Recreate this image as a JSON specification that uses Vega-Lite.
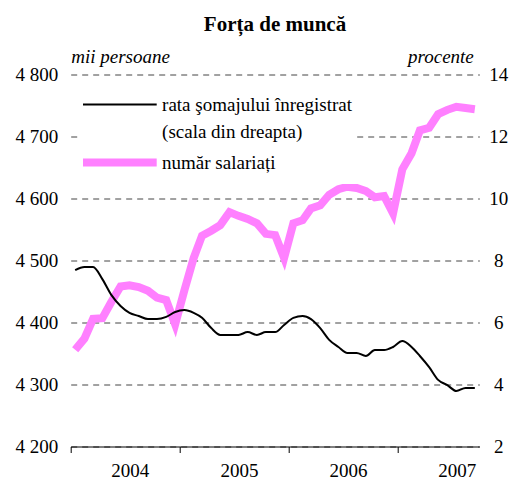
{
  "$schema": "https://vega.github.io/schema/vega-lite/v6.json",
  "width": 408.6,
  "height": 372,
  "autosize": {"type": "none"},
  "padding": {"left": 70.7, "top": 74.5, "right": 37.7, "bottom": 33.5},
  "background": "white",
  "title": {"text": "Forța de muncă", "font": "Liberation Serif", "fontSize": 21, "fontWeight": "bold", "anchor": "middle", "color": "black", "offset": 13},
  "config": {"view": {"stroke": null}},
  "data": {"values": [
    {"d": "2004-01-16", "s": 4356, "r": 7.69},
    {"d": "2004-02-16", "s": 4374, "r": 7.79},
    {"d": "2004-03-16", "s": 4406, "r": 7.79},
    {"d": "2004-04-16", "s": 4407, "r": 7.40},
    {"d": "2004-05-16", "s": 4433, "r": 6.89},
    {"d": "2004-06-16", "s": 4458, "r": 6.53},
    {"d": "2004-07-16", "s": 4460, "r": 6.31},
    {"d": "2004-08-16", "s": 4457, "r": 6.21},
    {"d": "2004-09-16", "s": 4451, "r": 6.11},
    {"d": "2004-10-16", "s": 4440, "r": 6.11},
    {"d": "2004-11-16", "s": 4436, "r": 6.18},
    {"d": "2004-12-16", "s": 4397, "r": 6.34},
    {"d": "2005-01-16", "s": 4452, "r": 6.40},
    {"d": "2005-02-16", "s": 4504, "r": 6.31},
    {"d": "2005-03-16", "s": 4540, "r": 6.15},
    {"d": "2005-04-16", "s": 4548, "r": 5.82},
    {"d": "2005-05-16", "s": 4557, "r": 5.60},
    {"d": "2005-06-16", "s": 4578, "r": 5.60},
    {"d": "2005-07-16", "s": 4572, "r": 5.60},
    {"d": "2005-08-16", "s": 4567, "r": 5.69},
    {"d": "2005-09-16", "s": 4560, "r": 5.60},
    {"d": "2005-10-16", "s": 4543, "r": 5.69},
    {"d": "2005-11-16", "s": 4541, "r": 5.69},
    {"d": "2005-12-16", "s": 4504, "r": 5.92},
    {"d": "2006-01-16", "s": 4560, "r": 6.15},
    {"d": "2006-02-16", "s": 4565, "r": 6.21},
    {"d": "2006-03-16", "s": 4584, "r": 6.11},
    {"d": "2006-04-16", "s": 4589, "r": 5.82},
    {"d": "2006-05-16", "s": 4606, "r": 5.44},
    {"d": "2006-06-16", "s": 4615, "r": 5.21},
    {"d": "2006-07-16", "s": 4619, "r": 5.02},
    {"d": "2006-08-16", "s": 4617, "r": 5.02},
    {"d": "2006-09-16", "s": 4612, "r": 4.92},
    {"d": "2006-10-16", "s": 4602, "r": 5.11},
    {"d": "2006-11-16", "s": 4604, "r": 5.11},
    {"d": "2006-12-16", "s": 4576, "r": 5.21},
    {"d": "2007-01-16", "s": 4647, "r": 5.40},
    {"d": "2007-02-16", "s": 4673, "r": 5.21},
    {"d": "2007-03-16", "s": 4710, "r": 4.92},
    {"d": "2007-04-16", "s": 4714, "r": 4.56},
    {"d": "2007-05-16", "s": 4736, "r": 4.15},
    {"d": "2007-06-16", "s": 4743, "r": 3.98},
    {"d": "2007-07-16", "s": 4748, "r": 3.79},
    {"d": "2007-08-16", "s": 4746, "r": 3.89},
    {"d": "2007-09-16", "s": 4744, "r": 3.89}
  ]},
  "layer": [
    {
      "mark": {"type": "line", "strokeWidth": 8},
      "encoding": {
        "x": {
          "field": "d", "type": "temporal",
          "scale": {"type": "utc", "domain": [{"year": 2004, "month": 1, "date": 1, "utc": true}, {"year": 2007, "month": 10, "date": 1, "utc": true}]},
          "axis": {
            "title": null,
            "values": [{"year": 2004, "month": 1, "date": 1, "utc": true}, {"year": 2005, "month": 1, "date": 1, "utc": true}, {"year": 2006, "month": 1, "date": 1, "utc": true}, {"year": 2007, "month": 1, "date": 1, "utc": true}],
            "format": "%Y",
            "labelOffset": 59,
            "labelFlush": false,
            "labelOverlap": false,
            "labelBound": false,
            "tickSize": 6,
            "tickColor": "black",
            "domainColor": "black",
            "grid": false,
            "labelFont": "Liberation Serif",
            "labelFontSize": 19,
            "labelColor": "black",
            "labelPadding": 9
          }
        },
        "y": {
          "field": "s", "type": "quantitative",
          "scale": {"domain": [4200, 4800], "nice": false, "zero": false},
          "axis": {
            "orient": "left",
            "values": [4200, 4300, 4400, 4500, 4600, 4700, 4800],
            "labelExpr": "replace(format(datum.value, ','), ',', ' ')",
            "ticks": false,
            "domain": false,
            "grid": true,
            "gridDash": [6, 5],
            "gridColor": "#444444",
            "gridWidth": 1,
            "labelFont": "Liberation Serif",
            "labelFontSize": 19,
            "labelColor": "black",
            "labelPadding": 13,
            "title": "mii persoane",
            "titleAngle": 0,
            "titleX": 0,
            "titleY": -12,
            "titleAlign": "left",
            "titleBaseline": "alphabetic",
            "titleFont": "Liberation Serif",
            "titleFontSize": 19,
            "titleFontStyle": "italic",
            "titleFontWeight": "normal",
            "titleColor": "black"
          }
        },
        "color": {
          "datum": "număr salariați", "type": "nominal",
          "scale": {"domain": ["rata şomajului înregistrat (scala din dreapta)", "număr salariați"], "range": ["#000000", "#ff80ff"]},
          "legend": {
            "orient": "none",
            "legendX": 7.3,
            "legendY": 15.5,
            "direction": "vertical",
            "title": null,
            "fillColor": "white",
            "padding": 5,
            "symbolType": "M-6.7,0H6.7",
            "symbolSize": 121,
            "symbolOffset": 27.35,
            "labelFont": "Liberation Serif",
            "labelFontSize": 19,
            "labelColor": "black",
            "labelOffset": 32.7,
            "labelLimit": 400,
            "rowPadding": 4,
            "labelExpr": "datum.label == 'număr salariați' ? datum.label : ['rata şomajului înregistrat', '(scala din dreapta)']",
            "encode": {
              "symbols": {"update": {"strokeWidth": {"signal": "datum.value == 'număr salariați' ? 8 : 2"}}},
              "labels": {"update": {"lineHeight": {"value": 27}}}
            }
          }
        }
      }
    },
    {
      "mark": {"type": "line", "interpolate": "monotone", "strokeWidth": 2},
      "encoding": {
        "x": {"field": "d", "type": "temporal"},
        "y": {
          "field": "r", "type": "quantitative",
          "scale": {"domain": [2, 14], "nice": false, "zero": false},
          "axis": {
            "orient": "right",
            "values": [2, 4, 6, 8, 10, 12, 14],
            "format": "d",
            "ticks": false,
            "domain": false,
            "grid": false,
            "labelAlign": "center",
            "labelFont": "Liberation Serif",
            "labelFontSize": 19,
            "labelColor": "black",
            "labelPadding": 19,
            "title": "procente",
            "titleAngle": 0,
            "titleX": -6,
            "titleY": -12,
            "titleAlign": "right",
            "titleBaseline": "alphabetic",
            "titleFont": "Liberation Serif",
            "titleFontSize": 19,
            "titleFontStyle": "italic",
            "titleFontWeight": "normal",
            "titleColor": "black"
          }
        },
        "color": {"datum": "rata şomajului înregistrat (scala din dreapta)", "type": "nominal"}
      }
    }
  ],
  "resolve": {"scale": {"y": "independent"}}
}
